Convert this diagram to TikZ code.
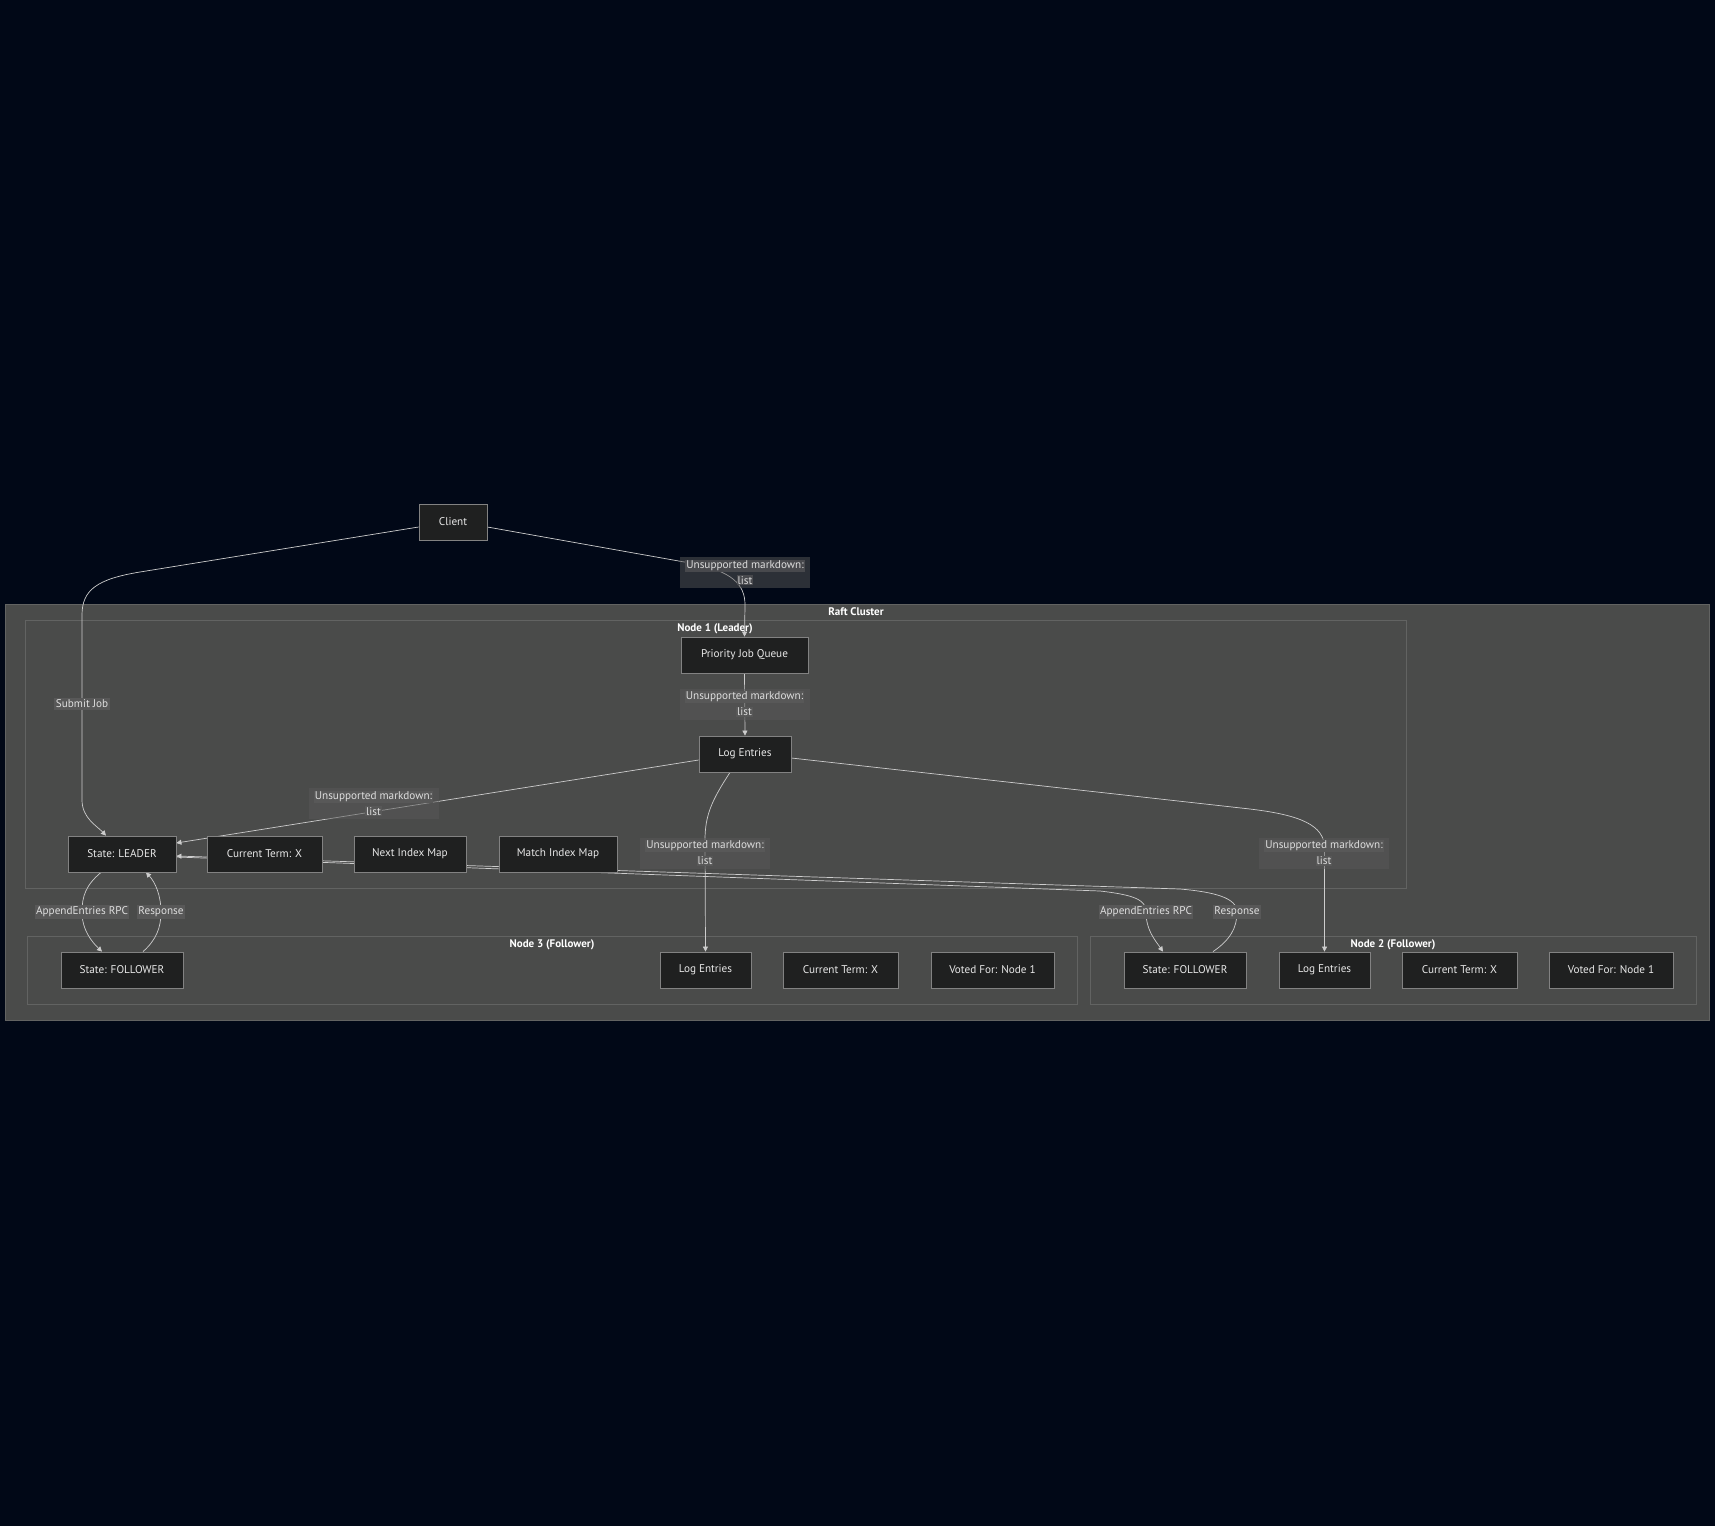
\documentclass[tikz,border=0pt]{standalone}
\usepackage{fontspec}
\setmainfont{PT Sans}
\usetikzlibrary{arrows.meta}
\definecolor{bgc}{RGB}{1,8,23}
\definecolor{clusfill}{RGB}{74,75,74}
\definecolor{clusbd}{RGB}{98,99,98}
\definecolor{nodefill}{RGB}{31,32,32}
\definecolor{nodebd}{RGB}{130,130,130}
\definecolor{nodetxt}{RGB}{232,232,232}
\definecolor{edgec}{RGB}{205,205,205}
\definecolor{lblouter}{RGB}{88,88,88}
\definecolor{lblin}{RGB}{88,88,88}
\definecolor{lblinout}{RGB}{72,73,77}
\definecolor{lbltxt}{RGB}{222,222,222}
\newcommand\hlin[1]{{\fboxsep=1pt\colorbox{lblin}{#1}}}
\newcommand\hlout[1]{{\fboxsep=1pt\colorbox{lblinout}{#1}}}
\pgfdeclarelayer{bglayer}
\pgfdeclarelayer{edgelayer}
\pgfsetlayers{bglayer,edgelayer,main}
\begin{document}
\begin{tikzpicture}[x=1pt,y=-1pt,
  box/.style={draw=nodebd,fill=nodefill,line width=0.8pt,minimum height=36pt,inner sep=0pt,text=nodetxt,font=\fontsize{11.2}{13}\selectfont},
  clus/.style={draw=clusbd,fill=clusfill,line width=0.8pt},
  ctitle/.style={text=white,font=\bfseries\fontsize{11}{13}\selectfont,inner sep=0pt},
  edge/.style={draw=edgec,line width=0.7pt,-{Triangle[length=5pt,width=5pt]}},
  lblbox/.style={fill=lblouter,fill opacity=0.5,text opacity=1,minimum width=130pt,minimum height=31pt,inner sep=0pt,align=center,text=lbltxt,font=\fontsize{11.2}{16}\selectfont},
  lblone/.style={fill=lblin,inner sep=1.5pt,text=lbltxt,font=\fontsize{11.2}{13}\selectfont},
]
\useasboundingbox (0,0) rectangle (1715,1526);
\begin{pgfonlayer}{bglayer}
  \fill[bgc] (0,0) rectangle (1715,1526);
  \draw[clus] (5.5,604) rectangle (1709.5,1020.5);
  \node[ctitle] (traft) at (856,612) {Raft Cluster};
  \draw[clus] (25,620) rectangle (1406,888);
  \node[ctitle] (tn1) at (715,628.5) {Node 1 (Leader)};
  \draw[clus] (27,936) rectangle (1077,1004);
  \node[ctitle] (tn3) at (552,944.5) {Node 3 (Follower)};
  \draw[clus] (1090,936) rectangle (1696,1004);
  \node[ctitle] (tn2) at (1393,944.5) {Node 2 (Follower)};
\end{pgfonlayer}

% nodes
\node[box,minimum width=68pt] (client) at (453,522) {Client};
\node[box,minimum width=127pt] (pjq) at (744.5,655) {Priority Job Queue};
\node[box,minimum width=92pt] (log1) at (745,754) {Log Entries};
\node[box,minimum width=108pt] (leader) at (122,854) {State: LEADER};
\node[box,minimum width=115pt] (cterm1) at (264.5,854) {Current Term: X};
\node[box,minimum width=112pt] (nextidx) at (410,854) {Next Index Map};
\node[box,minimum width=118pt] (matchidx) at (558,854) {Match Index Map};
\node[box,minimum width=122pt] (f3state) at (122,970) {State: FOLLOWER};
\node[box,minimum width=91pt] (f3log) at (705.5,970) {Log Entries};
\node[box,minimum width=115pt] (f3term) at (840.5,970) {Current Term: X};
\node[box,minimum width=123pt] (f3voted) at (992.5,970) {Voted For: Node 1};
\node[box,minimum width=122pt] (f2state) at (1185,970) {State: FOLLOWER};
\node[box,minimum width=91pt] (f2log) at (1324.5,970) {Log Entries};
\node[box,minimum width=115pt] (f2term) at (1459.5,970) {Current Term: X};
\node[box,minimum width=124pt] (f2voted) at (1611,970) {Voted For: Node 1};

\begin{pgfonlayer}{edgelayer}
  % edges
  \draw[edge] ([yshift=-5pt]client.west) -- (140,572) .. controls (97,579) and (82,590) .. (82,615) -- (82,800) .. controls (82,818) and (97,826) .. ([xshift=-16pt]leader.north);
  \draw[edge] ([yshift=-5pt]client.east) -- (690,563) .. controls (733,571) and (745,585) .. (745,605) -- (pjq.north);
  \draw[edge] (pjq.south) -- (log1.north);
  \draw[edge] ([yshift=-6pt]log1.west) -- ([yshift=11pt]leader.east);
  \draw[edge] ([xshift=-15pt]log1.south) .. controls (712,800) and (705,815) .. (705,840) -- (f3log.north);
  \draw[edge] ([yshift=-4pt]log1.east) -- (1250,809) .. controls (1300,815) and (1324.5,825) .. (1324.5,848) -- (f2log.north);
  \draw[edge] ([xshift=-21pt]leader.south) .. controls (86,885) and (82,896) .. (82,912) .. controls (82,930) and (92,942) .. ([xshift=-20pt]f3state.north);
  \draw[edge] ([xshift=21pt]f3state.north) .. controls (156,940) and (161,928) .. (161,912) .. controls (161,895) and (155,882) .. ([xshift=24pt]leader.south);
  \draw[edge] ([yshift=-3pt]leader.east) -- (1100,891) .. controls (1135,895) and (1146,900) .. (1146,912) .. controls (1146,930) and (1155,940) .. ([xshift=-22pt]f2state.north);
  \draw[edge] ([xshift=28pt]f2state.north) .. controls (1230,940) and (1237,928) .. (1237,912) .. controls (1237,898) and (1215,892) .. (1180,889) -- ([yshift=-2pt]leader.east);
  % labels
  \node[lblone] (lsubmit) at (82,704) {Submit Job};
  \node[lblbox] (lcq) at (745,572.5) {\hlout{Unsupported markdown:}\\\hlout{list}};
  \node[lblbox] (lpl) at (744.5,704) {\hlin{Unsupported markdown:}\\\hlin{list}};
  \node[lblbox] (lll) at (373.5,803.5) {\hlin{Unsupported markdown:}\\\hlin{list}};
  \node[lblbox] (ll3) at (705,853) {\hlin{Unsupported markdown:}\\\hlin{list}};
  \node[lblbox] (ll2) at (1324,853) {\hlin{Unsupported markdown:}\\\hlin{list}};
  \node[lblone] (lae3) at (82,912) {AppendEntries RPC};
  \node[lblone] (lre3) at (161,912) {Response};
  \node[lblone] (lae2) at (1146,912) {AppendEntries RPC};
  \node[lblone] (lre2) at (1237,912) {Response};
\end{pgfonlayer}
\end{tikzpicture}
\end{document}
